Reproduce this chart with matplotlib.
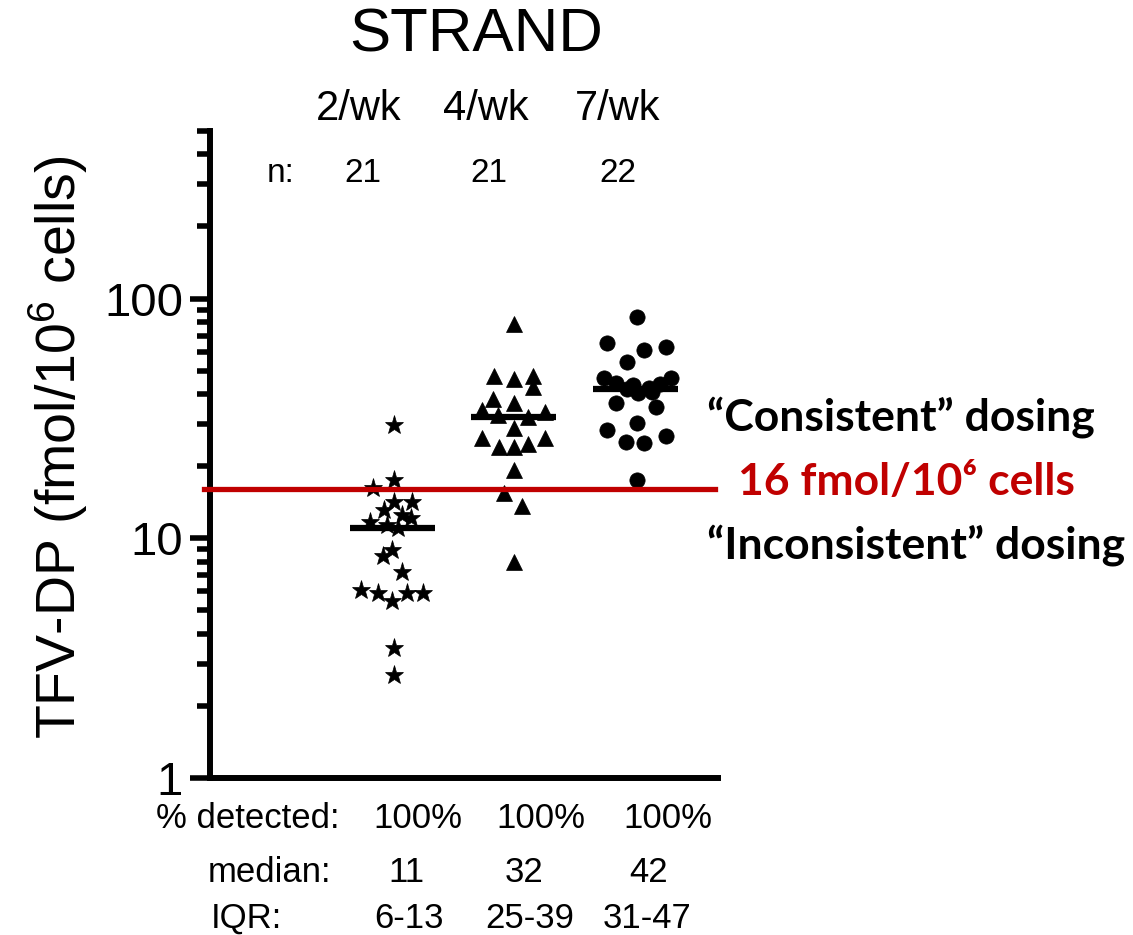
import numpy as np
import matplotlib
matplotlib.use("Agg")
import matplotlib.pyplot as plt
from matplotlib.ticker import LogLocator, NullFormatter, FixedLocator, FixedFormatter

plt.rcParams['font.family'] = ['Liberation Sans', 'DejaVu Sans']
plt.rcParams['mathtext.fontset'] = 'custom'
plt.rcParams['mathtext.rm'] = 'Liberation Sans'
plt.rcParams['mathtext.default'] = 'rm'

# TFV-DP per group (fmol/10^6 cells)
groups = ['2/wk', '4/wk', '7/wk']
n_counts = [21, 21, 22]
pct_detected = ['100%', '100%', '100%']
medians = [11, 32, 42]
iqr_labels = ['6-13', '25-39', '31-47']
threshold = 16

vals_2wk = [29.7, 17.5, 16.2, 14.2, 14.2, 13.1, 12.5, 12.2, 11.7, 11.4, 11.0,
            8.9, 8.4, 7.2, 6.1, 5.9, 5.5, 5.9, 5.9, 3.5, 2.7]
vals_4wk = [78.3, 47.5, 46.2, 47.5, 42.8, 38.1, 36.7, 34.3, 33.6, 32.7, 32.1,
            28.9, 26.2, 26.2, 24.0, 24.0, 24.7, 19.3, 15.5, 13.6, 8.0]
vals_7wk = [83.8, 65.3, 61.0, 62.8, 54.4,
            46.6, 44.4, 42.0, 40.4, 42.4, 44.0, 46.6, 43.6, 40.8,
            36.7, 35.3, 30.3, 28.3, 25.2, 25.0, 26.7, 17.5]

# horizontal scatter offsets within each column (x units)
jit_2wk = [0.01, 0.01, -0.16, 0.01, 0.16, -0.07, 0.08, 0.15, -0.18, -0.04, 0.05,
           0.0, -0.08, 0.08, -0.26, -0.12, 0.0, 0.12, 0.25, 0.01, 0.01]
jit_4wk = [0.0, -0.16, 0.0, 0.16, 0.16, -0.17, 0.0, -0.26, 0.26, -0.13, 0.12,
           0.0, -0.26, 0.26, -0.12, 0.0, 0.12, 0.0, -0.08, 0.07, 0.0]
jit_7wk = [0.01, -0.23, 0.07, 0.25, -0.07,
           -0.26, -0.16, -0.07, 0.02, 0.11, 0.20, 0.29, -0.02, 0.14,
           -0.16, 0.17, 0.01, -0.23, -0.08, 0.07, 0.25, 0.01]

W, H = 1133, 935
fig = plt.figure(figsize=(W / 100, H / 100), dpi=100)

def fx(x):
    return x / W

def fy(y):
    return 1 - y / H

ax = fig.add_axes([fx(210), fy(778), fx(718) - fx(210), fy(131) - fy(778)])
ax.set_yscale('log')
ax.set_ylim(1, 500)
ax.set_xlim(-0.50, 3.68)

data = [vals_2wk, vals_4wk, vals_7wk]
jits = [jit_2wk, jit_4wk, jit_7wk]
markers = ['*', '^', 'o']
sizes = [14, 11, 11]
for i, (v, j, m, s) in enumerate(zip(data, jits, markers, sizes)):
    x = i + 1 + np.array(j)
    ax.plot(x, v, linestyle='none', marker=m, markersize=s, color='black',
            markeredgewidth=0.5, zorder=3)
    ax.plot([i + 1 - 0.35, i + 1 + 0.35], [medians[i], medians[i]],
            color='black', lw=4.5, solid_capstyle='butt', zorder=4)

# threshold line
ax.axhline(threshold, xmin=-0.012, xmax=0.994, color='#C00000', lw=3.8,
           clip_on=False, zorder=5)

for side in ['top', 'right']:
    ax.spines[side].set_visible(False)
for side in ['left', 'bottom']:
    ax.spines[side].set_linewidth(4.3)
    ax.spines[side].set_capstyle('projecting')
ax.set_xticks([])
ax.yaxis.set_major_locator(FixedLocator([1, 10, 100]))
ax.yaxis.set_major_formatter(FixedFormatter(['1', '10', '100']))
ax.yaxis.set_minor_locator(LogLocator(base=10, subs=np.arange(2, 10), numticks=20))
ax.yaxis.set_minor_formatter(NullFormatter())
ax.tick_params(axis='y', which='major', length=14.5, width=4, pad=5,
               labelsize=34)
ax.tick_params(axis='y', which='minor', length=9.5, width=4)

fig.text(fx(58), fy(447), 'TFV-DP (fmol/10$^{6}$ cells)', rotation=90,
         ha='center', va='center', fontsize=40)

# header
fig.text(fx(476), fy(36), 'STRAND', ha='center', va='center', fontsize=44.5)
for g, xc in zip(groups, [359, 486, 618]):
    fig.text(fx(xc), fy(109), g, ha='center', va='center', fontsize=30)
fig.text(fx(281), fy(174), 'n:', ha='center', va='center', fontsize=24)
for n, xc in zip(n_counts, [363, 489, 618]):
    fig.text(fx(xc), fy(174), str(n), ha='center', va='center', fontsize=24)

# summary rows below the axis
fig.text(fx(156), fy(818), '% detected:', ha='left', va='center', fontsize=25)
fig.text(fx(208), fy(872), 'median:', ha='left', va='center', fontsize=25)
fig.text(fx(211), fy(918), 'IQR:', ha='left', va='center', fontsize=25)
for p, xc in zip(pct_detected, [418, 541, 668]):
    fig.text(fx(xc), fy(818), p, ha='center', va='center', fontsize=25)
for m, xc in zip(medians, [406, 524, 649]):
    fig.text(fx(xc), fy(872), str(m), ha='center', va='center', fontsize=25)
for q, xc in zip(iqr_labels, [409, 530, 647]):
    fig.text(fx(xc), fy(918), q, ha='center', va='center', fontsize=25)

# annotations beside the threshold
side_font = ['Lato', 'DejaVu Sans']
fig.text(fx(707), fy(417), '“Consistent” dosing', ha='left', va='center',
         fontsize=32, fontweight='bold', family=side_font)
fig.text(fx(738), fy(482), f'{threshold} fmol/10⁶ cells', ha='left', va='center',
         fontsize=32, fontweight='bold', family=side_font, color='#C00000')
fig.text(fx(707), fy(545), '“Inconsistent” dosing', ha='left', va='center',
         fontsize=32, fontweight='bold', family=side_font)

fig.savefig('out.png', dpi=100)
